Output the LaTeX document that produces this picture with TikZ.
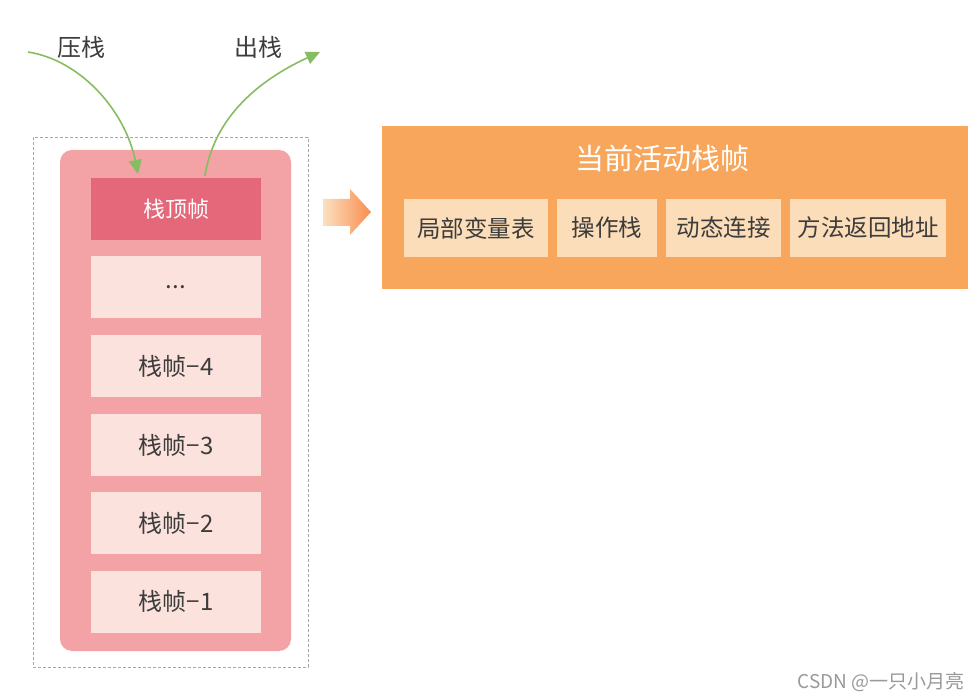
\documentclass[tikz,border=0pt]{standalone}
\usepackage{fontspec}
\setmainfont{Noto Sans CJK SC}
\usetikzlibrary{arrows.meta}
\definecolor{pinkbg}{HTML}{F3A2A5}
\definecolor{pinktop}{HTML}{E4677A}
\definecolor{pinkcell}{HTML}{FCE2DC}
\definecolor{orangebg}{HTML}{F8A65B}
\definecolor{orangecell}{HTML}{FBDDB9}
\definecolor{txt}{HTML}{3C3C3C}
\definecolor{arrowgreen}{HTML}{86BD63}
\tikzset{
  frame/.style={draw=gray!70, densely dashed, line width=0.6pt},
  stackcell/.style={fill=pinkcell, minimum width=170pt, minimum height=62pt, inner sep=0pt, text=txt, font=\fontsize{24}{26}\selectfont},
  topcell/.style={fill=pinktop, minimum width=170pt, minimum height=62pt, inner sep=0pt, text=white, font=\fontsize{22}{24}\selectfont},
  partcell/.style={fill=orangecell, minimum height=58pt, inner sep=0pt, text=txt, font=\fontsize{23.5}{25}\selectfont},
  flow/.style={arrowgreen, line width=1.6pt, -{Triangle[length=14pt,width=13pt]}},
  lbl/.style={text=txt, font=\fontsize{24}{26}\selectfont},
}
\begin{document}
\begin{tikzpicture}[x=1pt,y=-1pt]
\useasboundingbox[fill=white] (0,0) rectangle (978,700);
% outer dashed frame
\node[frame, minimum width=275pt, minimum height=530pt, inner sep=0pt] (frame) at (170.5,402) {};
% pink stack body
\node[fill=pinkbg, rounded corners=12pt, minimum width=231pt, minimum height=501pt, inner sep=0pt] (stack) at (175.5,400.5) {};
% cells
\node[topcell] (top) at (176,209) {栈顶帧};
\node[stackcell] (dots) at (176,287.5) {...};
\node[stackcell] (f4) at (176,366) {栈帧−4};
\node[stackcell] (f3) at (176,445) {栈帧−3};
\node[stackcell] (f2) at (176,523) {栈帧−2};
\node[stackcell] (f1) at (176,601.5) {栈帧−1};
% labels
\node[lbl] (push) at (81,47) {压栈};
\node[lbl] (pop) at (258,47) {出栈};
\coordinate (pushstart) at (28,52);
\coordinate (popend) at (320,52);
\draw[flow] (pushstart) .. controls (80,60) and (125,110) .. (138,174);
\draw[flow] (205,176) .. controls (215,110) and (270,75) .. (popend);
% block arrow
\shade[left color=orangecell!90!white, right color=orangebg!85!red] (323,199) -- (350,199) -- (350,189) -- (371,212) -- (350,235) -- (350,226) -- (323,226) -- cycle;
% orange panel
\node[fill=orangebg, minimum width=586pt, minimum height=163pt, inner sep=0pt] (panel) at (675,207.5) {};
\node[text=white, font=\fontsize{29}{31}\selectfont] (title) at (662,158) {当前活动栈帧};
\node[partcell, minimum width=144pt] (p1) at (476,228) {局部变量表};
\node[partcell, minimum width=100pt] (p2) at (607,228) {操作栈};
\node[partcell, minimum width=115pt] (p3) at (723.5,228) {动态连接};
\node[partcell, minimum width=156pt] (p4) at (868,228) {方法返回地址};
% watermark
\node[text=gray!80, font=\fontsize{19}{21}\selectfont, anchor=east] (wm) at (968,682) {CSDN @一只小月亮};
\end{tikzpicture}
\end{document}
